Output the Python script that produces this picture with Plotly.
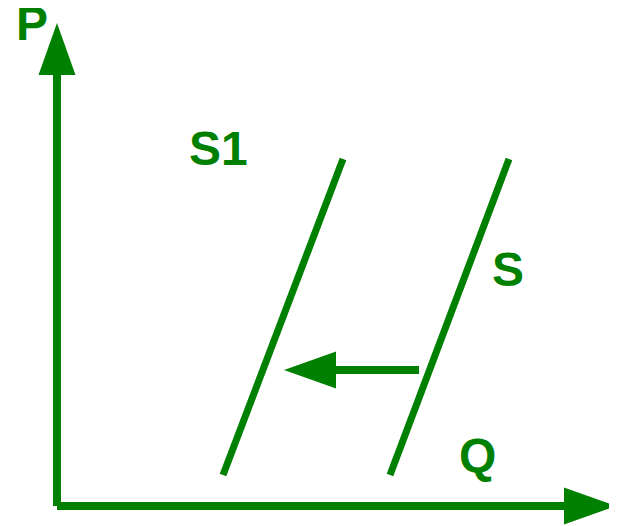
import plotly.graph_objects as go

GREEN = "#008000"

# supply curves (quantity, price) end points
s1_q = [166, 286]
s1_p = [31, 347]
s_q = [333, 452]
s_p = [31, 347]

# shift arrow (from S towards S1)
shift_q = [362, 227]
shift_p = [136, 136]

# axes
p_axis_q = [0, 0]
p_axis_p = [0, 483]
q_axis_q = [0, 559]
q_axis_p = [0, 0]

labels = ["P", "S1", "S", "Q"]
label_q = [-25, 161, 451, 420]
label_p = [483, 358, 237, 51]


def arrow(fig, xs, ys, width, head_len=52, head_half=18.5):
    # shaft stops at the base of the head, head drawn as a filled triangle
    x0, y0, x1, y1 = xs[0], ys[0], xs[1], ys[1]
    dx, dy = x1 - x0, y1 - y0
    n = (dx ** 2 + dy ** 2) ** 0.5
    ux, uy = dx / n, dy / n
    bx, by = x1 - ux * head_len, y1 - uy * head_len
    fig.add_trace(go.Scatter(x=[x0, bx], y=[y0, by], mode="lines",
                             line=dict(color=GREEN, width=width),
                             hoverinfo="skip"))
    fig.add_trace(go.Scatter(
        x=[x1, bx - uy * head_half, bx + uy * head_half, x1],
        y=[y1, by + ux * head_half, by - ux * head_half, y1],
        mode="lines", fill="toself", fillcolor=GREEN,
        line=dict(color=GREEN, width=0), hoverinfo="skip"))


fig = go.Figure()

arrow(fig, p_axis_q, p_axis_p, 8)
arrow(fig, q_axis_q, q_axis_p, 8)

fig.add_trace(go.Scatter(x=s1_q, y=s1_p, mode="lines",
                         line=dict(color=GREEN, width=7), hoverinfo="skip"))
fig.add_trace(go.Scatter(x=s_q, y=s_p, mode="lines",
                         line=dict(color=GREEN, width=7), hoverinfo="skip"))

arrow(fig, shift_q, shift_p, 8)

for t, x, y in zip(labels, label_q, label_p):
    fig.add_annotation(x=x, y=y, text="<b>" + t + "</b>", showarrow=False,
                       font=dict(family="Liberation Sans, Arial", size=48,
                                 color=GREEN),
                       xanchor="center", yanchor="middle")

# ranges offset by the 8px page margin so the origin lands where it should
fig.update_layout(width=617, height=526,
                  margin=dict(l=0, r=0, t=0, b=0),
                  plot_bgcolor="white", paper_bgcolor="white",
                  showlegend=False,
                  xaxis=dict(range=[-49, 568], visible=False, fixedrange=True),
                  yaxis=dict(range=[-28, 498], visible=False, fixedrange=True))

fig.write_html("out.html", config={"displayModeBar": False})
